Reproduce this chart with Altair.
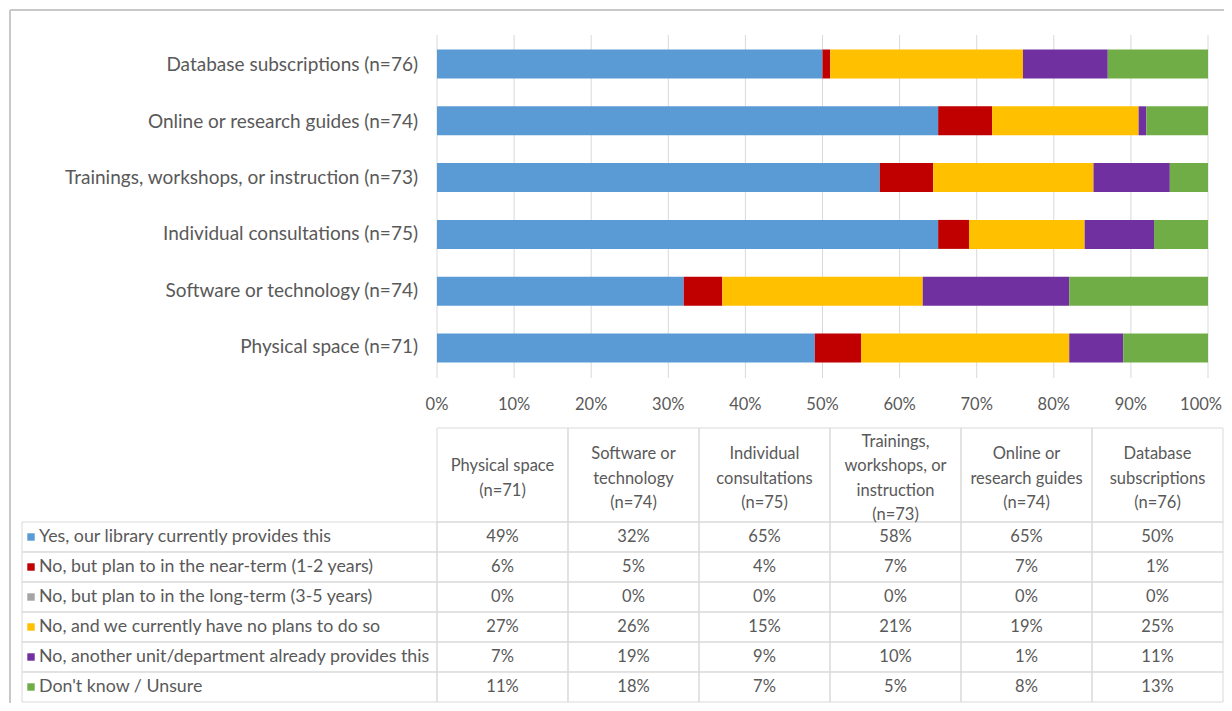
import altair as alt
import pandas as pd

# ---------------- data ----------------
categories = [
    "Physical space (n=71)",
    "Software or technology (n=74)",
    "Individual consultations (n=75)",
    "Trainings, workshops, or instruction (n=73)",
    "Online or research guides (n=74)",
    "Database subscriptions (n=76)",
]
header_labels = [
    "Physical space\n(n=71)",
    "Software or\ntechnology\n(n=74)",
    "Individual\nconsultations\n(n=75)",
    "Trainings,\nworkshops, or\ninstruction\n(n=73)",
    "Online or\nresearch guides\n(n=74)",
    "Database\nsubscriptions\n(n=76)",
]
responses = [
    "Yes, our library currently provides this",
    "No, but plan to in the near-term (1-2 years)",
    "No, but plan to in the long-term (3-5 years)",
    "No, and we currently have no plans to do so",
    "No, another unit/department already provides this",
    "Don't know / Unsure",
]
colors = ["#5B9BD5", "#C00000", "#A5A5A5", "#FFC000", "#7030A0", "#70AD47"]

yes_now = [49, 32, 65, 58, 65, 50]
near_term = [6, 5, 4, 7, 7, 1]
long_term = [0, 0, 0, 0, 0, 0]
no_plans = [27, 26, 15, 21, 19, 25]
other_unit = [7, 19, 9, 10, 1, 11]
unsure = [11, 18, 7, 5, 8, 13]
series = [yes_now, near_term, long_term, no_plans, other_unit, unsure]

x_ticks = [0, 0.1, 0.2, 0.3, 0.4, 0.5, 0.6, 0.7, 0.8, 0.9, 1.0]

# ---------------- layout constants ----------------
FONT = "Lato"
TXT = "#595959"
GRID = "#D9D9D9"
W, H = 1201, 665
BAR_RANGE = [415, 1186]
BAR_Y_RANGE = [0, 338]
COLW = 131.0
LEG = 415 / COLW
ROWH = 30.0
HDR = 94 / ROWH
LH = 24.5

rows = []
for ri, r in enumerate(responses):
    for ci, c in enumerate(categories):
        rows.append({"category": c, "response": r, "order": ri, "pct": series[ri][ci],
                     "label": f"{series[ri][ci]}%", "col": ci, "row": ri})
df = pd.DataFrame(rows)

xbar = alt.Scale(domain=[0, 1], range=BAR_RANGE)
ybar = alt.Scale(domain=list(reversed(categories)), range=BAR_Y_RANGE, paddingInner=0.49, paddingOuter=0.22)
cscale = alt.Scale(domain=responses, range=colors)

grid = alt.Chart(pd.DataFrame({"t": x_ticks})).mark_rule(color=GRID, strokeWidth=1).encode(
    x=alt.X("t:Q", scale=xbar, axis=None), y=alt.value(-2), y2=alt.value(341))

xlabels = alt.Chart(pd.DataFrame({"t": x_ticks[:-1]})).mark_text(
    font=FONT, fontSize=16.5, color=TXT, baseline="middle").encode(
    x=alt.X("t:Q", scale=xbar, axis=None), y=alt.value(368),
    text=alt.Text("t:Q", format=".0%"))
xlabel_last = alt.Chart(pd.DataFrame({"t": x_ticks[-1:]})).mark_text(
    font=FONT, fontSize=16.5, color=TXT, baseline="middle", align="right", dx=14).encode(
    x=alt.X("t:Q", scale=xbar, axis=None), y=alt.value(368),
    text=alt.Text("t:Q", format=".0%"))

bars = alt.Chart(df).mark_bar().encode(
    x=alt.X("pct:Q", stack="normalize", scale=xbar, axis=None),
    y=alt.Y("category:N", scale=ybar, axis=None),
    color=alt.Color("response:N", scale=cscale, legend=None),
    order=alt.Order("order:Q"),
)

ylabels = alt.Chart(pd.DataFrame({"category": categories})).mark_text(
    font=FONT, fontSize=19, color=TXT, align="right", baseline="middle").encode(
    x=alt.value(396), y=alt.Y("category:N", scale=ybar, axis=None), text="category:N")

# ---------------- table ----------------
col_edges = [0] + [LEG + k for k in range(7)]
cells = []
for ci in range(6):
    cells.append({"x0": col_edges[ci + 1], "x1": col_edges[ci + 2], "y0": -HDR, "y1": 0})
for ri in range(6):
    for k in range(7):
        cells.append({"x0": col_edges[k], "x1": col_edges[k + 1], "y0": ri, "y1": ri + 1})
cells = pd.DataFrame(cells)

xt = alt.Scale(domain=[0, LEG + 6], range=[0, W])
yt = alt.Scale(domain=[-HDR, 6], range=[391, H])

cell_layer = alt.Chart(cells).mark_rect(fillOpacity=0, stroke=GRID, strokeWidth=1).encode(
    x=alt.X("x0:Q", scale=xt, axis=None), x2="x1:Q",
    y=alt.Y("y0:Q", scale=yt, axis=None), y2="y1:Q")

hdr = pd.DataFrame({
    "h": header_labels,
    "xc": [LEG + k + 0.5 for k in range(6)],
    "yc": [-HDR / 2 + 3.5 / ROWH - (h.count("\n")) * LH / 2 / ROWH for h in header_labels],
})
hdr_layer = alt.Chart(hdr).mark_text(
    font=FONT, fontSize=16.5, color=TXT, align="center", baseline="middle", lineBreak="\n", lineHeight=LH).encode(
    x=alt.X("xc:Q", scale=xt, axis=None), y=alt.Y("yc:Q", scale=yt, axis=None), text="h:N")

df["xc"] = df["col"].apply(lambda c: LEG + c + 0.5)
df["yc"] = df["row"] + 0.5
val_layer = alt.Chart(df).mark_text(
    font=FONT, fontSize=16.5, color=TXT, align="center", baseline="middle").encode(
    x=alt.X("xc:Q", scale=xt, axis=None), y=alt.Y("yc:Q", scale=yt, axis=None), text="label:N")

leg = pd.DataFrame({"response": responses, "yc": [i + 0.5 for i in range(6)]})
leg_sq = alt.Chart(leg).mark_square(size=55, opacity=1).encode(
    x=alt.value(9), y=alt.Y("yc:Q", scale=yt, axis=None),
    color=alt.Color("response:N", scale=cscale, legend=None))
leg_txt = alt.Chart(leg).mark_text(
    font=FONT, fontSize=17.8, color=TXT, align="left", baseline="middle").encode(
    x=alt.value(17), y=alt.Y("yc:Q", scale=yt, axis=None), text="response:N")

frame_top = alt.Chart(pd.DataFrame({"a": [0]})).mark_rule(color="#C8C8C8", strokeWidth=2).encode(
    x=alt.value(-12), x2=alt.value(W + 1), y=alt.value(-27))
frame_left = alt.Chart(pd.DataFrame({"a": [0]})).mark_rule(color="#C8C8C8", strokeWidth=2).encode(
    x=alt.value(-12), y=alt.value(-27), y2=alt.value(H + 1))

chart = alt.layer(
    frame_top, frame_left, grid, bars, xlabels, xlabel_last, ylabels,
    cell_layer, hdr_layer, val_layer, leg_sq, leg_txt,
).resolve_scale(x="independent", y="independent", color="independent").properties(
    width=W, height=H,
    autosize=alt.AutoSizeParams(type="none"),
    padding={"left": 14, "top": 29, "right": 1, "bottom": 1},
).configure_view(stroke=None)

chart.save("out.html", embed_options={"renderer": "svg", "actions": False})
